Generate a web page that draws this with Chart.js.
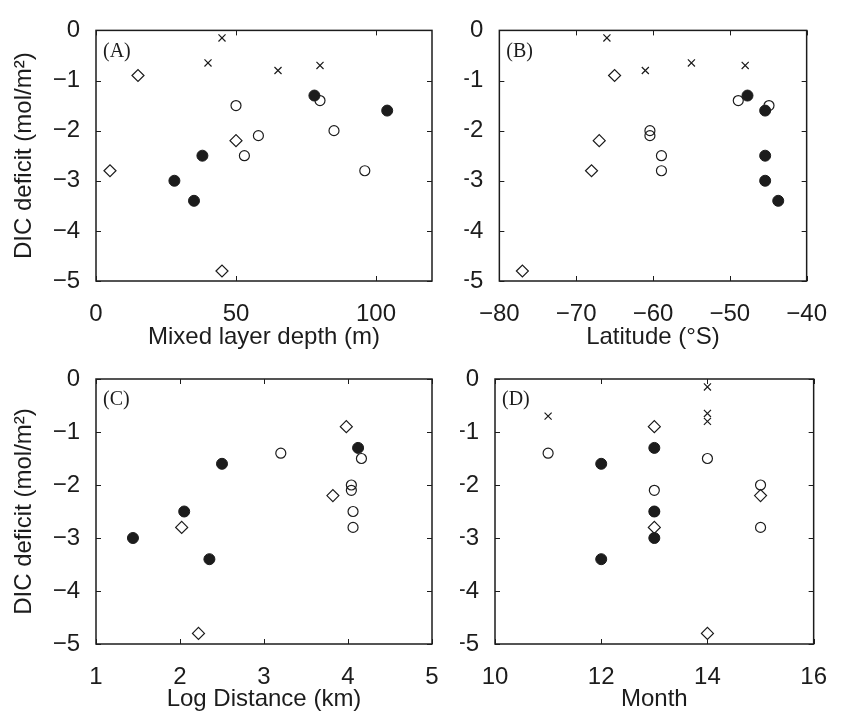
<!DOCTYPE html>
<html>
<head>
<meta charset="utf-8">
<title>DIC deficit</title>
<script src="https://cdn.jsdelivr.net/npm/chart.js@4/dist/chart.umd.min.js"></script>
<style>
  html, body { margin: 0; padding: 0; background: #fff; overflow: hidden; }
  #fig { position: relative; width: 846px; height: 714px; }
  #fig canvas { position: absolute; }
</style>
</head>
<body>
<div id="fig">
  <canvas id="pA" width="460" height="352" style="left:0;top:0"></canvas>
  <canvas id="pB" width="386" height="352" style="left:460px;top:0"></canvas>
  <canvas id="pC" width="460" height="374" style="left:0;top:340px"></canvas>
  <canvas id="pD" width="386" height="374" style="left:460px;top:340px"></canvas>
</div>
<script>
// DIC deficit per station group, with the matching x variables
const openDIC   = [-1.4, -1.5, -2.0, -2.1, -2.5, -2.8];
const openMLD   = [80, 50, 85, 58, 53, 96];
const openLat   = [-48.9, -44.9, -60.4, -60.4, -58.9, -58.9];
const openDist  = [3.2, 4.16, 4.04, 4.04, 4.06, 4.06];
const openMonth = [11, 14, 15, 13, 13, 15];

const fillDIC   = [-1.3, -1.6, -2.5, -3.0, -3.4];
const fillMLD   = [78, 104, 38, 28, 35];
const fillLat   = [-47.7, -45.4, -45.4, -45.4, -43.7];
const fillDist  = [4.12, 2.5, 2.05, 1.44, 2.35];
const fillMonth = [13, 12, 13, 13, 12];

const diaDIC   = [-0.9, -2.2, -2.8, -4.8];
const diaMLD   = [15, 50, 5, 45];
const diaLat   = [-65, -67, -68, -77];
const diaDist  = [3.98, 3.82, 2.02, 2.22];
const diaMonth = [13, 15, 13, 14];

const crossDIC   = [-0.15, -0.65, -0.7, -0.8];
const crossMLD   = [45, 40, 80, 65];
const crossLat   = [-66, -55, -48, -61];
const crossMonth = [14, 14, 11, 14];

// tick labels
const yTicks     = [0, -1, -2, -3, -4, -5];
const mldTicks   = [0, 50, 100];
const latTicks   = [-80, -70, -60, -50, -40];
const distTicks  = [1, 2, 3, 4, 5];
const monthTicks = [10, 12, 14, 16];

const INK = '#1c1c1c';
const SANS = "'Liberation Sans', Arial, sans-serif";
const SERIF = "'Liberation Serif', 'Times New Roman', serif";
const TICK = 5;

const pts = (xs, ys) => xs.map((x, i) => ({ x, y: ys[i] }));
const minus = v => String(v).replace('-', '\u2212');

const styles = {
  cross:  { pointStyle: 'crossRot', pointRadius: 5,   pointBorderWidth: 1.2, pointBackgroundColor: INK, order: 3 },
  dia:    { pointStyle: 'rectRot',  pointRadius: 6,   pointBorderWidth: 1.2, pointBackgroundColor: 'rgba(0,0,0,0)', order: 2 },
  open:   { pointStyle: 'circle',   pointRadius: 5,   pointBorderWidth: 1.2, pointBackgroundColor: 'rgba(0,0,0,0)', order: 1 },
  filled: { pointStyle: 'circle',   pointRadius: 5.5, pointBorderWidth: 1,   pointBackgroundColor: INK, order: 0 },
};

// box with inward ticks on all four sides, plus the panel letter
const frameTicks = {
  id: 'frameTicks',
  beforeDatasetsDraw(chart, args, opts) {
    const { ctx, chartArea: a, scales: { x, y } } = chart;
    ctx.save();
    ctx.strokeStyle = INK;
    ctx.lineWidth = 1.5;
    ctx.strokeRect(a.left, a.top, a.width, a.height);
    ctx.beginPath();
    x.ticks.forEach(t => {
      const px = Math.round(x.getPixelForValue(t.value)) + 0.5;
      ctx.moveTo(px, a.bottom); ctx.lineTo(px, a.bottom - TICK);
      ctx.moveTo(px, a.top);    ctx.lineTo(px, a.top + TICK);
    });
    y.ticks.forEach(t => {
      const py = Math.round(y.getPixelForValue(t.value)) + 0.5;
      ctx.moveTo(a.left, py);  ctx.lineTo(a.left + TICK, py);
      ctx.moveTo(a.right, py); ctx.lineTo(a.right - TICK, py);
    });
    ctx.lineWidth = 1;
    ctx.stroke();
    ctx.restore();
  },
  afterDraw(chart, args, opts) {
    const { ctx, chartArea: a } = chart;
    ctx.save();
    ctx.fillStyle = INK;
    ctx.font = '20px ' + SERIF;
    ctx.textBaseline = 'middle';
    ctx.textAlign = 'left';
    ctx.fillText(opts.label, a.left + 7, a.top + 21);
    ctx.restore();
  }
};

function makePanel(id, p) {
  const datasets = p.series.map(s => Object.assign({
    data: pts(s.xs, s.ys),
    borderColor: INK,
    pointBorderColor: INK,
    showLine: false,
  }, styles[s.kind]));

  return new Chart(document.getElementById(id), {
    type: 'scatter',
    data: { datasets },
    plugins: [frameTicks],
    options: {
      responsive: false,
      animation: false,
      layout: { padding: p.pad },
      plugins: {
        legend: { display: false },
        tooltip: { enabled: false },
        frameTicks: { label: p.label },
      },
      scales: {
        x: {
          type: 'linear',
          min: p.xMin, max: p.xMax,
          afterBuildTicks: s => { s.ticks = p.xTicks.map(v => ({ value: v })); },
          afterFit: s => { s.height = p.xAxisH; },
          grid: { display: false, drawTicks: false },
          border: { display: false },
          ticks: { color: INK, padding: 19, maxRotation: 0, font: { family: SANS, size: 24 }, callback: minus },
          title: { display: true, text: p.xTitle, color: INK, padding: 0, font: { family: SANS, size: 24, lineHeight: 1.2 } },
        },
        y: {
          type: 'linear',
          min: -5, max: 0,
          afterBuildTicks: s => { s.ticks = yTicks.map(v => ({ value: v })); },
          afterFit: s => { s.width = p.yAxisW; },
          grid: { display: false, drawTicks: false },
          border: { display: false },
          ticks: { color: INK, padding: 16, font: { family: SANS, size: 24 }, callback: minus },
          title: { display: !!p.yTitle, text: p.yTitle || '', color: INK, padding: { top: 10, bottom: 0 }, font: { family: SANS, size: 24, lineHeight: 1.2 } },
        },
      },
    },
  });
}

const yTitle = 'DIC deficit (mol/m\u00B2)';

makePanel('pA', {
  label: '(A)', xMin: 0, xMax: 120, xTicks: mldTicks, xTitle: 'Mixed layer depth (m)', yTitle,
  yAxisW: 96, xAxisH: 71, pad: { top: 15, right: 28, left: 0, bottom: 0 },
  series: [
    { kind: 'cross', xs: crossMLD, ys: crossDIC },
    { kind: 'dia', xs: diaMLD, ys: diaDIC },
    { kind: 'open', xs: openMLD, ys: openDIC },
    { kind: 'filled', xs: fillMLD, ys: fillDIC },
  ],
});

makePanel('pB', {
  label: '(B)', xMin: -80, xMax: -40, xTicks: latTicks, xTitle: 'Latitude (\u00B0S)',
  yAxisW: 35, xAxisH: 71, pad: { top: 15, right: 14, left: 0, bottom: 0 },
  series: [
    { kind: 'cross', xs: crossLat, ys: crossDIC },
    { kind: 'dia', xs: diaLat, ys: diaDIC },
    { kind: 'open', xs: openLat, ys: openDIC },
    { kind: 'filled', xs: fillLat, ys: fillDIC },
  ],
});

makePanel('pC', {
  label: '(C)', xMin: 1, xMax: 5, xTicks: distTicks, xTitle: 'Log Distance (km)', yTitle,
  yAxisW: 96, xAxisH: 70, pad: { top: 39, right: 28, left: 0, bottom: 0 },
  series: [
    { kind: 'dia', xs: diaDist, ys: diaDIC },
    { kind: 'open', xs: openDist, ys: openDIC },
    { kind: 'filled', xs: fillDist, ys: fillDIC },
  ],
});

makePanel('pD', {
  label: '(D)', xMin: 10, xMax: 16, xTicks: monthTicks, xTitle: 'Month',
  yAxisW: 35, xAxisH: 70, pad: { top: 39, right: 14, left: 0, bottom: 0 },
  series: [
    { kind: 'cross', xs: crossMonth, ys: crossDIC },
    { kind: 'dia', xs: diaMonth, ys: diaDIC },
    { kind: 'open', xs: openMonth, ys: openDIC },
    { kind: 'filled', xs: fillMonth, ys: fillDIC },
  ],
});
</script>
</body>
</html>
